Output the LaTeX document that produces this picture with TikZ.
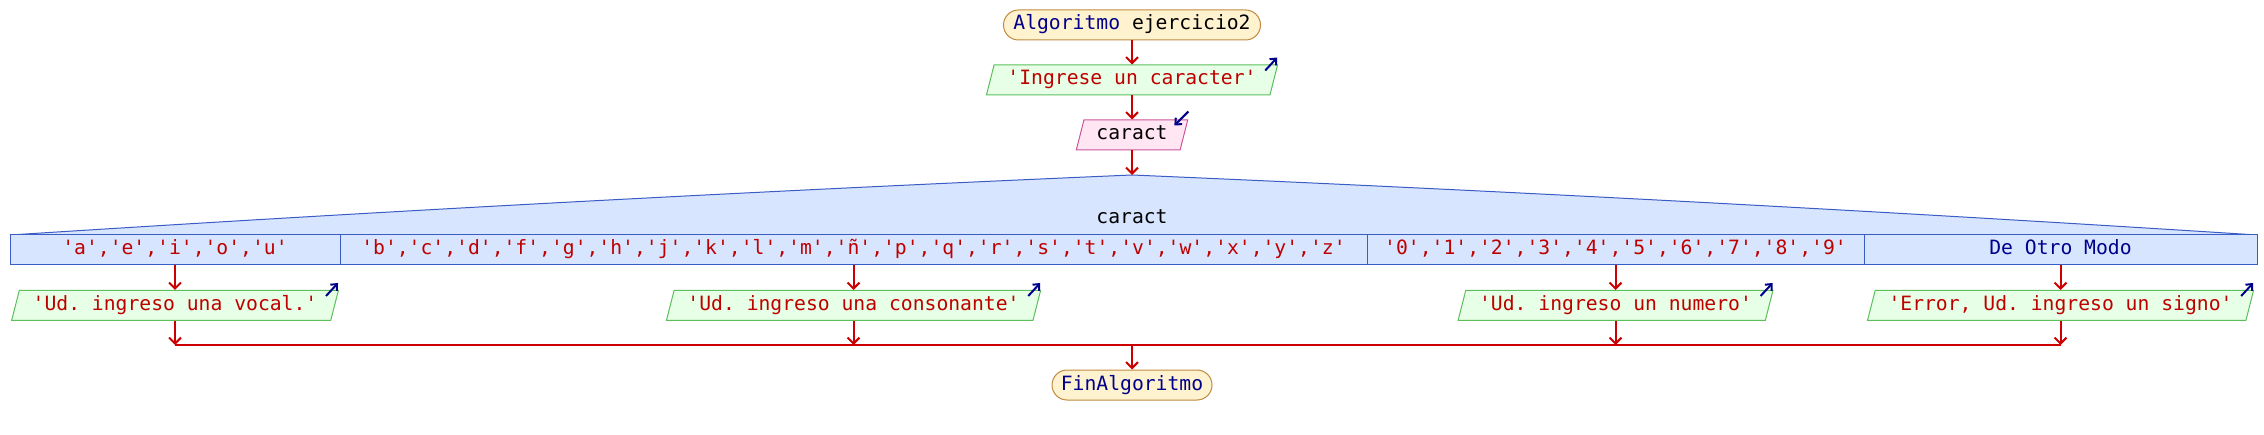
\documentclass[tikz,border=0pt]{standalone}
\usepackage{fontspec}
\setmonofont{DejaVu Sans Mono}
\usetikzlibrary{shapes.geometric,arrows.meta}
\definecolor{flecha}{HTML}{CC0000}
\definecolor{cadena}{HTML}{BF0000}
\definecolor{clave}{HTML}{00008B}
\definecolor{fondoterm}{HTML}{FFF2CF}
\definecolor{bordeterm}{HTML}{C08A40}
\definecolor{fondoesc}{HTML}{E6FFE6}
\definecolor{bordeesc}{HTML}{5CBF5C}
\definecolor{fondoleer}{HTML}{FFE6F2}
\definecolor{bordeleer}{HTML}{CC5599}
\definecolor{fondocaso}{HTML}{D8E5FF}
\definecolor{bordecaso}{HTML}{3A5CC5}
\tikzset{
  texto/.style={text height=14pt,text depth=4pt,inner ysep=0pt},
  terminal/.style={texto,draw=bordeterm,fill=fondoterm,line width=1pt,rounded corners=15pt,minimum height=30pt,inner xsep=0pt},
  paralelo/.style={texto,trapezium,trapezium stretches=true,trapezium left angle=67,trapezium right angle=113,line width=1pt,minimum height=30pt},
  escribir/.style={paralelo,draw=bordeesc,fill=fondoesc,inner xsep=13.4pt,text=cadena},
  leer/.style={paralelo,draw=bordeleer,fill=fondoleer,inner xsep=12.5pt},
  caso/.style={texto,draw=bordecaso,fill=fondocaso,line width=1pt,minimum height=30pt,inner xsep=0pt,text=cadena},
  linea/.style={draw=flecha,line width=2pt},
  flechita/.style={linea,-{Straight Barb[length=6pt,width=12pt]}},
  marca/.style={draw=clave,line width=2pt,-{Straight Barb[length=5pt,width=9pt]}}
}
\begin{document}
\begin{tikzpicture}[x=1pt,y=-1pt,font=\ttfamily\fontsize{19.7}{24}\selectfont]
\useasboundingbox (0,0) rectangle (2264,435);
% inicio, escribir y leer
\node[terminal,minimum width=257pt] (inicio) at (1132,25) {\textcolor{clave}{Algoritmo} ejercicio2};
\node[escribir] (esc0) at (1132,80) {'Ingrese un caracter'};
\node[leer] (leer) at (1132,135) {caract};
\draw[marca] ([shift={(-13,6)}]esc0.top right corner) -- ([shift={(-1,-7)}]esc0.top right corner);
\draw[marca] ([shift={(0,-8)}]leer.top right corner) -- ([shift={(-14,6)}]leer.top right corner);
% segun
\coordinate (tope) at (1132,175);
\filldraw[fill=fondocaso,draw=bordecaso,line width=1pt] (10,235) .. controls (384,211) and (758,191) .. (tope) .. controls (1507,191) and (1882,211) .. (2257,235);
\node[texto] (var) at (1132,219) {caract};
\node[caso,minimum width=330pt] (c1) at (175,250) {'a','e','i','o','u'};
\node[caso,minimum width=1027pt] (c2) at (853.5,250) {'b','c','d','f','g','h','j','k','l','m','ñ','p','q','r','s','t','v','w','x','y','z'};
\node[caso,minimum width=497pt] (c3) at (1615.5,250) {'0','1','2','3','4','5','6','7','8','9'};
\node[caso,minimum width=393pt,text=clave] (c4) at (2060.5,250) {De Otro Modo};
\node[escribir] (esc1) at (175,305.5) {'Ud. ingreso una vocal.'};
\node[escribir] (esc2) at (853.5,305.5) {'Ud. ingreso una consonante'};
\node[escribir] (esc3) at (1615.5,305.5) {'Ud. ingreso un numero'};
\node[escribir] (esc4) at (2060.5,305.5) {'Error, Ud. ingreso un signo'};
\draw[marca] ([shift={(-13,6)}]esc1.top right corner) -- ([shift={(-1,-7)}]esc1.top right corner);
\draw[marca] ([shift={(-13,6)}]esc2.top right corner) -- ([shift={(-1,-7)}]esc2.top right corner);
\draw[marca] ([shift={(-13,6)}]esc3.top right corner) -- ([shift={(-1,-7)}]esc3.top right corner);
\draw[marca] ([shift={(-13,6)}]esc4.top right corner) -- ([shift={(-1,-7)}]esc4.top right corner);
% fin
\node[terminal,minimum width=160pt] (fin) at (1132,385) {\textcolor{clave}{FinAlgoritmo}};
\coordinate (b1) at (175,345);
\coordinate (b2) at (853.5,345);
\coordinate (b3) at (1615.5,345);
\coordinate (b4) at (2060.5,345);
\coordinate (bc) at (1132,345);
% conectores
\draw[flechita] (inicio.south) -- (inicio.south |- esc0.north);
\draw[flechita] (inicio.south |- esc0.south) -- (inicio.south |- leer.north);
\draw[flechita] (inicio.south |- leer.south) -- (tope);
\draw[flechita] (c1.south) -- (c1.south |- esc1.north);
\draw[flechita] (c2.south) -- (c2.south |- esc2.north);
\draw[flechita] (c3.south) -- (c3.south |- esc3.north);
\draw[flechita] (c4.south) -- (c4.south |- esc4.north);
\draw[flechita] (b1 |- esc1.south) -- (b1);
\draw[flechita] (b2 |- esc2.south) -- (b2);
\draw[flechita] (b3 |- esc3.south) -- (b3);
\draw[flechita] (b4 |- esc4.south) -- (b4);
\draw[linea] (b1) -- (b4);
\draw[flechita] (bc) -- (fin);
\end{tikzpicture}
\end{document}
